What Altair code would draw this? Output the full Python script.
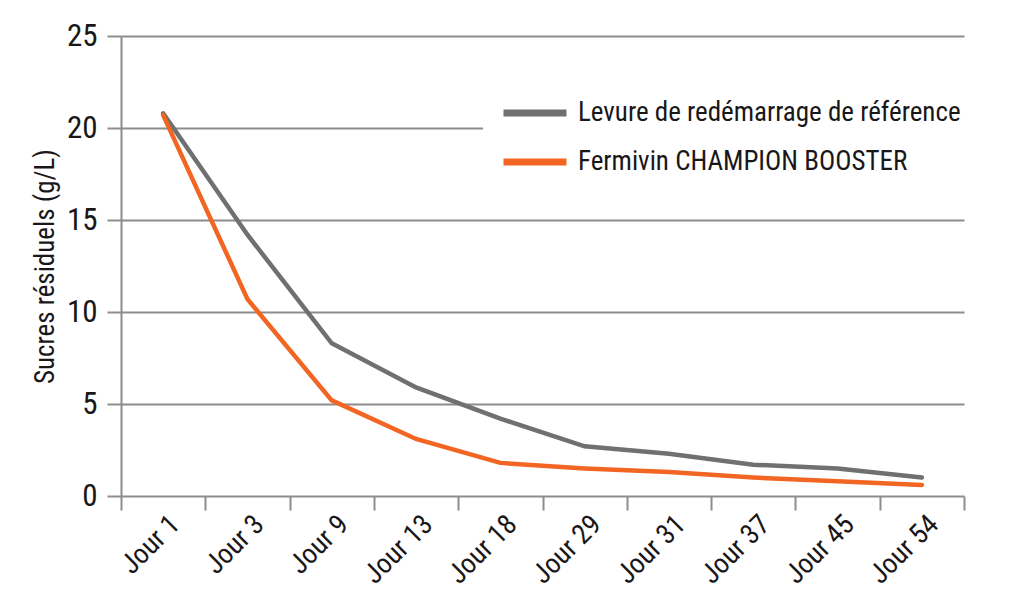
import altair as alt
import pandas as pd

days = ["Jour 1", "Jour 3", "Jour 9", "Jour 13", "Jour 18", "Jour 29", "Jour 31", "Jour 37", "Jour 45", "Jour 54"]
ref_values = [20.8, 14.2, 8.3, 5.9, 4.2, 2.7, 2.3, 1.7, 1.5, 1.0]
champ_values = [20.7, 10.7, 5.2, 3.1, 1.8, 1.5, 1.3, 1.0, 0.8, 0.6]
series_names = ["Levure de redémarrage de référence", "Fermivin CHAMPION BOOSTER"]
series_colors = ["#707071", "#F26522"]

rows = []
for d, v in zip(days, ref_values):
    rows.append({"jour": d, "sucre": v, "serie": series_names[0]})
for d, v in zip(days, champ_values):
    rows.append({"jour": d, "sucre": v, "serie": series_names[1]})
df = pd.DataFrame(rows)

FONT = "Roboto Condensed"
GRID = "#8c8c8e"
TXT = "#1a1718"
W = 400

chart = alt.Chart(df).mark_line(strokeWidth=4.5, strokeCap="round", strokeJoin="miter").encode(
    x=alt.X("jour:N", sort=days, bandPosition=0.5,
            scale=alt.Scale(type="band", paddingInner=0, paddingOuter=0),
            axis=alt.Axis(title=None, labelAngle=-45, labelAlign="right", labelBaseline="middle",
                          tickBand="extent", tickSize=14, tickColor=GRID, tickWidth=2,
                          domain=False, grid=False, labelFont=FONT, labelFontSize=28,
                          labelFontWeight=W, labelColor=TXT, labelPadding=10, labelOffset=12)),
    y=alt.Y("sucre:Q", scale=alt.Scale(domain=[0, 25], nice=False),
            axis=alt.Axis(title="Sucres résiduels (g/L)", values=[0, 5, 10, 15, 20, 25],
                          tickSize=14, tickColor=GRID, tickWidth=2,
                          domain=True, domainColor=GRID, domainWidth=2,
                          grid=True, gridColor=GRID, gridWidth=2,
                          labelFont=FONT, labelFontSize=31, labelFontWeight=W, labelColor=TXT, labelPadding=10,
                          titleFont=FONT, titleFontSize=27, titleFontWeight=W, titleColor=TXT,
                          titleX=-76, titleY=230, titleAngle=-90, titleAlign="center", titleBaseline="middle")),
    color=alt.Color("serie:N", sort=series_names,
                    scale=alt.Scale(domain=series_names, range=series_colors),
                    legend=alt.Legend(title=None, orient="none", legendX=362, legendY=25,
                                      symbolType="stroke", symbolSize=3969, symbolStrokeWidth=7,
                                      labelFont=FONT, labelFontSize=27, labelFontWeight=W, labelColor=TXT,
                                      labelLimit=0, labelOffset=8, rowPadding=-4, fillColor="white",
                                      padding=17, strokeColor="white")),
).properties(
    width=843, height=460,
    autosize=alt.AutoSizeParams(type="none"),
    padding={"left": 113, "top": 28, "right": 60, "bottom": 112},
    background="white",
).configure_view(stroke=None)

chart.save("out.html", embed_options={"renderer": "svg", "actions": False})
